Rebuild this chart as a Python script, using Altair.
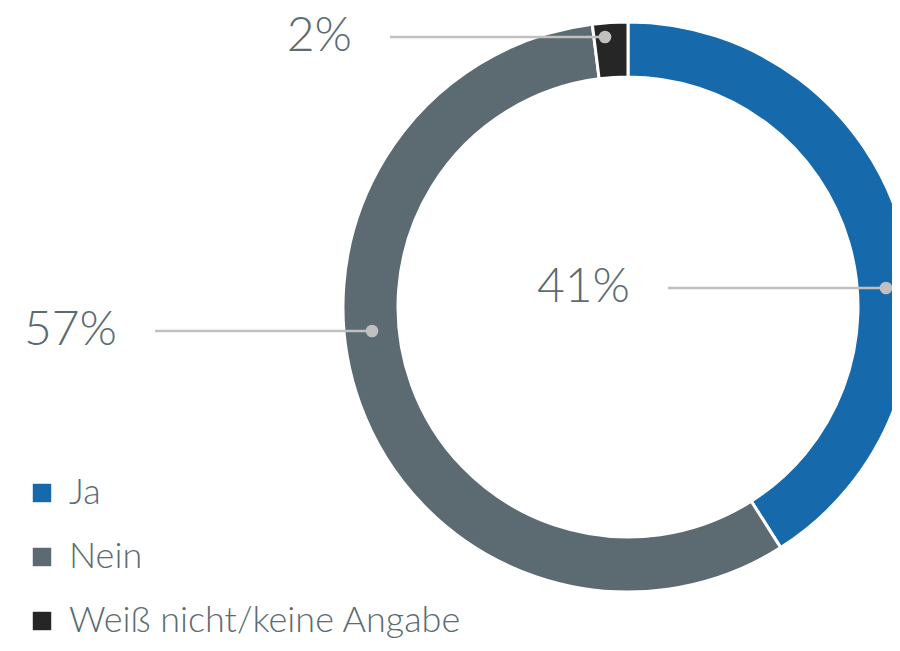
import altair as alt
import pandas as pd

categories = ["Ja", "Nein", "Weiß nicht/keine Angabe"]
values = [41, 57, 2]
colors = ["#166aab", "#5c6b72", "#262626"]
labels = ["41%", "57%", "2%"]

df = pd.DataFrame({"Kategorie": categories, "Wert": values, "idx": [0, 1, 2]})

FONT = "Lato"
TXT = "#5c6b72"
CX, CY = 620, 299

donut = alt.Chart(df).mark_arc(
    outerRadius=285, innerRadius=230, stroke="white", strokeWidth=3
).encode(
    theta=alt.Theta("Wert:Q", stack=True),
    order=alt.Order("idx:Q"),
    color=alt.Color(
        "Kategorie:N",
        sort=categories,
        scale=alt.Scale(domain=categories, range=colors),
        legend=alt.Legend(
            title=None, orient="none", legendX=16, legendY=467,
            symbolType="square", symbolSize=340, symbolStrokeWidth=0,
            labelFont=FONT, labelFontWeight=300, labelFontSize=36, labelColor=TXT,
            rowPadding=28, labelOffset=9, labelLimit=700,
        ),
    ),
    x=alt.value(CX), y=alt.value(CY),
)

# annotation: (label index, dot x, dot y, line start x)
ann = [(0, 878, 280, 660), (1, 364, 323, 147), (2, 597, 29, 382)]
layers = [donut]
for i, dx, dy, lx in ann:
    d = pd.DataFrame({"label": [labels[i]], "Kategorie": [categories[i]]})
    base = alt.Chart(d)
    layers.append(base.mark_rule(color="#c0c0c0", strokeWidth=2.5).encode(
        x=alt.value(lx), x2=alt.value(dx), y=alt.value(dy)))
    layers.append(base.mark_point(filled=True, color="#c0c0c0", opacity=1, size=160).encode(
        x=alt.value(dx), y=alt.value(dy)))
    layers.append(base.mark_text(align="right", baseline="middle", font=FONT, fontWeight=300,
                                 fontSize=48, color=TXT, dy=0).encode(
        text="label:N", x=alt.value(lx - 38), y=alt.value(dy)))

chart = alt.layer(*layers).properties(
    width=884, height=635, autosize="none", padding=0
).configure_view(stroke=None)

chart.save("out.html", embed_options={"renderer": "svg", "actions": False})
